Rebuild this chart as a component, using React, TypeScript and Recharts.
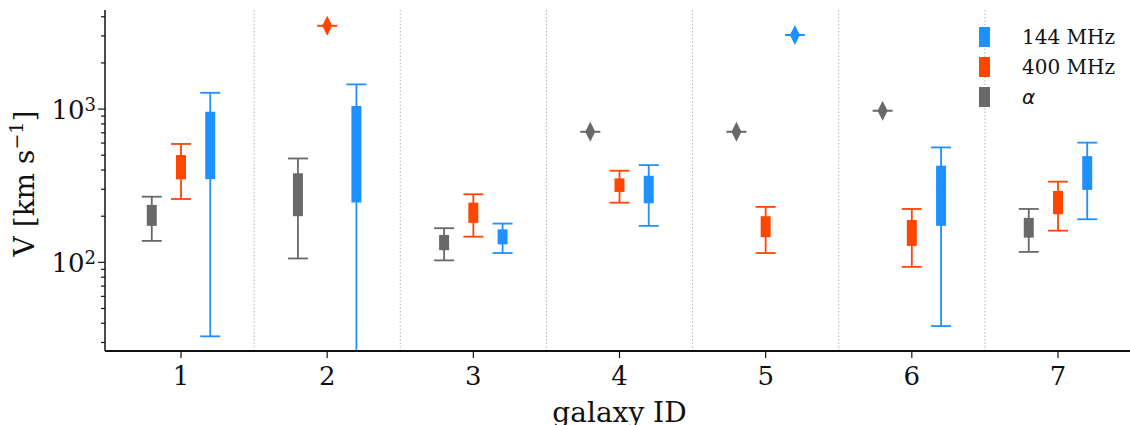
import { ComposedChart, Scatter, ErrorBar, XAxis, YAxis, ReferenceLine } from "recharts"

const galaxyIds = [1, 2, 3, 4, 5, 6, 7]
const separators = [1.5, 2.5, 3.5, 4.5, 5.5, 6.5]
const yTicks = [30, 40, 50, 60, 70, 80, 90, 100, 200, 300, 400, 500, 600, 700, 800, 900, 1000, 2000, 3000, 4000]
const yMajor = [100, 1000]

// per galaxy: whisker low, box low, median, box high, whisker high
// a galaxy with only one estimate has all five equal (drawn as a diamond)
const alphaLow = [138, 106, 103, 711, 711, 975, 117]
const alphaQ1 = [173, 200, 120, 711, 711, 975, 145]
const alphaMed = [204, 289, 135, 711, 711, 975, 171]
const alphaQ3 = [237, 381, 151, 711, 711, 975, 195]
const alphaHigh = [268, 476, 167, 711, 711, 975, 223]

const mhz400Low = [259, 3494, 147, 245, 115, 93.5, 161]
const mhz400Q1 = [348, 3494, 181, 288, 146, 128, 206]
const mhz400Med = [421, 3494, 212, 319, 173, 157, 249]
const mhz400Q3 = [501, 3494, 245, 353, 200, 189, 292]
const mhz400High = [592, 3494, 278, 396, 230, 223, 336]

// galaxy 2 lower whisker runs off the bottom of the plot
const mhz144Low = [32.9, 26.4, 115, 173, 3041, 38.4, 191]
const mhz144Q1 = [349, 246, 131, 243, 3041, 173, 297]
const mhz144Med = [659, 644, 147, 302, 3041, 301, 396]
const mhz144Q3 = [960, 1046, 164, 367, 3041, 427, 493]
const mhz144High = [1277, 1449, 179, 431, 3041, 562, 604]

const series = [
  { name: "α", color: "#696969", offset: -0.2, low: alphaLow, q1: alphaQ1, med: alphaMed, q3: alphaQ3, high: alphaHigh },
  { name: "400 MHz", color: "#ff4500", offset: 0, low: mhz400Low, q1: mhz400Q1, med: mhz400Med, q3: mhz400Q3, high: mhz400High },
  { name: "144 MHz", color: "#1e90ff", offset: 0.2, low: mhz144Low, q1: mhz144Q1, med: mhz144Med, q3: mhz144Q3, high: mhz144High },
]

const FONT = "'DejaVu Serif', serif"

function boxRows(s) {
  return galaxyIds.flatMap((id, i) =>
    s.low[i] === s.high[i]
      ? []
      : [{
          x: id + s.offset,
          y: s.med[i],
          whisker: [s.med[i] - s.low[i], s.high[i] - s.med[i]],
          box: [s.med[i] - s.q1[i], s.q3[i] - s.med[i]],
        }]
  )
}

function singleRows(s) {
  return galaxyIds.flatMap((id, i) => (s.low[i] === s.high[i] ? [{ x: id + s.offset, y: s.med[i] }] : []))
}

const XTick = ({ x, y, payload }) => (
  <text x={x} y={y + 25} textAnchor="middle" fontFamily={FONT} fontSize={26} fill="#111">
    {payload.value}
  </text>
)

const YTick = ({ x, y, payload }) => {
  const v = payload.value
  const major = yMajor.includes(v)
  return (
    <g>
      <line x1={x - (major ? 7 : 4)} x2={x} y1={y} y2={y} stroke="#111" strokeWidth={1.2} />
      {major && (
        <text x={x - 9} y={y + 10} textAnchor="end" fontFamily={FONT} fontSize={26} fill="#111">
          10
          <tspan dy={-8} fontSize={18}>{Math.round(Math.log10(v))}</tspan>
        </text>
      )}
    </g>
  )
}

const YLabel = ({ viewBox }) => {
  const cy = viewBox.y + viewBox.height / 2 + 3
  return (
    <text transform={`translate(34, ${cy}) rotate(-90)`} textAnchor="middle" fontFamily={FONT} fontSize={28} fill="#111">
      V [km s
      <tspan dy={-11} fontSize={19}>−1</tspan>
      <tspan dy={11}>]</tspan>
    </text>
  )
}

const Diamond = ({ cx, cy, fill }) => (
  <g>
    <line x1={cx - 10} x2={cx + 10} y1={cy} y2={cy} stroke={fill} strokeWidth={2} />
    <path d={`M${cx},${cy - 10} L${cx + 5},${cy} L${cx},${cy + 10} L${cx - 5},${cy} Z`} fill={fill} />
  </g>
)

const Median = ({ cx, cy, fill }) => <circle cx={cx} cy={cy} r={2.5} fill={fill} />

export default function App() {
  return (
    <div style={{ position: "absolute", left: 0, top: 0, width: 1130, height: 425, overflow: "hidden", background: "#fff" }}>
      <ComposedChart width={1140} height={425} margin={{ top: 10, right: 6, left: 0, bottom: 0 }}>
        <YAxis
          dataKey="y"
          type="number"
          scale="log"
          domain={[26.4, 4429]}
          allowDataOverflow
          ticks={yTicks}
          interval={0}
          width={105}
          tickSize={0}
          tickMargin={0}
          tickLine={false}
          tick={YTick}
          axisLine={{ stroke: "#111", strokeWidth: 1.5 }}
          label={{ content: YLabel }}
        />
        {separators.map((s) => (
          <ReferenceLine key={s} x={s} stroke="#b5b5b5" strokeWidth={1} strokeDasharray="1.5 2" />
        ))}
        {series.map((s) => (
          <Scatter
            key={s.name + "-box"}
            name={s.name}
            data={boxRows(s)}
            fill={s.color}
            shape={Median}
            isAnimationActive={false}
          >
            <ErrorBar dataKey="whisker" direction="y" width={10} stroke={s.color} strokeWidth={1.8} isAnimationActive={false} />
            <ErrorBar dataKey="box" direction="y" width={0} stroke={s.color} strokeWidth={10} isAnimationActive={false} />
          </Scatter>
        ))}
        {series.map((s) => (
          <Scatter
            key={s.name + "-single"}
            data={singleRows(s)}
            fill={s.color}
            shape={Diamond}
            isAnimationActive={false}
          />
        ))}
        <XAxis
          dataKey="x"
          type="number"
          domain={[0.48, 7.52]}
          ticks={galaxyIds}
          interval={0}
          allowDataOverflow
          height={74}
          tickSize={7}
          tick={XTick}
          stroke="#111"
          axisLine={{ stroke: "#111", strokeWidth: 1.8 }}
          tickLine={{ stroke: "#111", strokeWidth: 1.2 }}
          label={{ value: "galaxy ID", position: "insideBottom", offset: 3, fontFamily: FONT, fontSize: 28, fill: "#111" }}
        />
        <XAxis
          xAxisId="top"
          orientation="top"
          type="number"
          domain={[0.48, 7.52]}
          height={0}
          tick={false}
          tickLine={false}
          axisLine={{ stroke: "#111", strokeWidth: 1.5 }}
        />
      </ComposedChart>
      <div style={{ position: "absolute", left: 979, top: 22, fontFamily: FONT, fontSize: 20, color: "#111" }}>
        {[...series].reverse().map((s) => (
          <div key={s.name} style={{ display: "flex", alignItems: "center", height: 30 }}>
            <div style={{ width: 11, height: 20, background: s.color, marginRight: 32 }} />
            <span style={s.name === "α" ? { fontFamily: "'DejaVu Sans', sans-serif", fontStyle: "italic" } : undefined}>
              {s.name}
            </span>
          </div>
        ))}
      </div>
    </div>
  )
}
